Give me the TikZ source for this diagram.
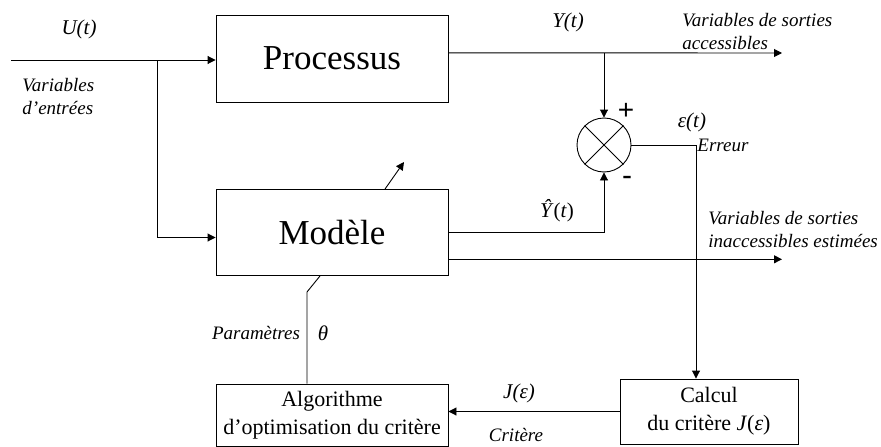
\documentclass[tikz,border=0pt]{standalone}
\usepackage{fontspec}
\setmainfont{Liberation Serif}
\setsansfont{Liberation Sans}
\usetikzlibrary{arrows.meta,calc}
\newcommand\labfont{\fontsize{19}{23}\selectfont\itshape}
\newcommand\sigfont{\fontsize{21}{24}\selectfont\itshape}
\newcommand\bigfont{\fontsize{35}{40}\selectfont}
\newcommand\midfont{\fontsize{22}{28}\selectfont}
\begin{document}
\begin{tikzpicture}[x=1pt,y=-1pt,
  line width=0.9pt,
  arr/.style={-{Triangle[length=8pt,width=8pt]}},
  blk/.style={draw, line width=0.9pt, inner sep=0pt},
  lab/.style={inner sep=0pt, font=\labfont},
  sig/.style={inner sep=0pt, font=\sigfont}]
\useasboundingbox (0,0) rectangle (881,447);
% blocks
\node[blk, minimum width=232pt, minimum height=87pt, font=\bigfont] (proc) at (332,58.5) {Processus};
\node[blk, minimum width=232pt, minimum height=86pt, font=\bigfont] (mod) at (332,232.5) {Modèle};
\node[blk, minimum width=232pt, minimum height=62.5pt, font=\midfont, align=center] (algo) at (332,415.25) {Algorithme\\d’optimisation du critère};
\node[blk, minimum width=178pt, minimum height=65pt, font=\midfont, align=center] (calc) at (709,411.5) {Calcul\\ du critère \textit{J}(\textit{ε})};
\node[draw, circle, minimum size=54pt, inner sep=0pt, line width=0.9pt] (sum) at (604,145) {};
\draw (sum.45) -- (sum.225) (sum.135) -- (sum.315);
% coordinates
\coordinate (in) at (11,60);
\coordinate (br) at (157,60);
\coordinate (yo) at (782,53);
\coordinate (yb) at (604,53);
\coordinate (mo) at (782,259.3);
\coordinate (tip) at (404,162);
\coordinate (pk) at (307,292);
% connectors
\draw[arr] (in) -- (in -| proc.west);
\draw[arr] (br) |- ([yshift=-5pt]mod.west);
\draw[arr] ([yshift=5.7pt]proc.east) -- (yo);
\draw[arr] (yb) -- (sum.north);
\draw[arr] (mod.east) -| (sum.south);
\draw[arr] ([yshift=-26.8pt]mod.east) -- (mo);
\draw[arr] (sum.east) -| ([xshift=-13pt]calc.north);
\draw[arr] (calc.west) -- (calc.west -| algo.east);
\draw[arr] ([xshift=53pt]mod.north) -- (tip);
\draw ([xshift=-12pt]mod.south) -- (pk) -- (pk |- algo.north);
% labels
\node[sig] (ut) at (79,29) {U(t)};
\node[lab, anchor=west, align=left] (ve) at (22,96.5) {Variables\\d’entrées};
\node[sig] (yt) at (568,22) {Y(t)};
\node[lab, anchor=west, align=left] (vsa) at (682,31.5) {Variables de sorties\\accessibles};
\node[inner sep=0pt, font=\fontsize{28}{30}\sffamily] (plus) at (626,111) {+};
\node[inner sep=0pt, font=\fontsize{30}{30}\sffamily] (minus) at (627,181) {-};
\node[sig] (et) at (692,122) {ε(t)};
\node[lab, anchor=west] (err) at (697,145) {Erreur};
\node[inner sep=0pt, font=\fontsize{21}{24}\selectfont] (yh) at (557,211) {\textit{Ŷ}(\textit{t})};
\node[lab, anchor=west, align=left] (vsi) at (708,230) {Variables de sorties\\inaccessibles estimées};
\node[lab] (par) at (256,333) {Paramètres};
\node[sig] (th) at (323,333) {θ};
\node[sig] (je) at (519,393) {J(ε)};
\node[lab] (cr) at (516,435) {Critère};
\end{tikzpicture}
\end{document}
